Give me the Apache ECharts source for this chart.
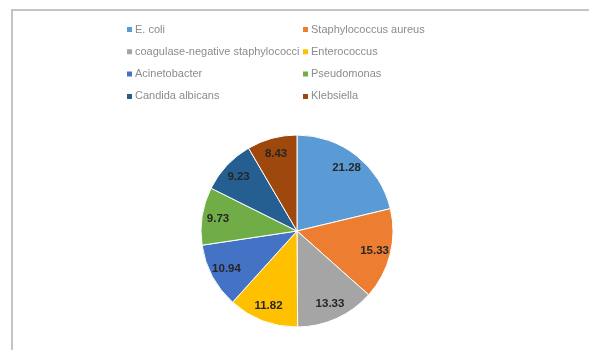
<!DOCTYPE html>
<html>
<head>
<meta charset="utf-8">
<script src="https://cdn.jsdelivr.net/npm/echarts@6/dist/echarts.min.js"></script>
<style>
html,body{margin:0;padding:0;background:#fff;}
#frame{position:absolute;left:11px;top:9px;width:600px;height:360px;border-left:2px solid #c4c4c4;border-top:2px solid #c4c4c4;}
#c{position:absolute;left:0;top:0;width:589px;height:350px;}
</style>
</head>
<body>
<div id="frame"></div>
<div id="c"></div>
<script>
const categories = ["E. coli", "Staphylococcus aureus", "coagulase-negative staphylococci", "Enterococcus", "Acinetobacter", "Pseudomonas", "Candida albicans", "Klebsiella"];
const values = [21.28, 15.33, 13.33, 11.82, 10.94, 9.73, 9.23, 8.43];
const colors = ["#5B9BD5", "#ED7D31", "#A5A5A5", "#FFC000", "#4472C4", "#70AD47", "#255E91", "#9E480E"];
const legendLeft = [categories[0], categories[2], categories[4], categories[6]];
const legendRight = [categories[1], categories[3], categories[5], categories[7]];

const chart = echarts.init(document.getElementById('c'), null, {renderer: 'canvas'});
const mainData = categories.map((n, i) => ({name: n, value: values[i], itemStyle: {color: colors[i]}}));
const overlayData = categories.map((n, i) => ({name: n, value: values[i], itemStyle: {color: 'rgba(0,0,0,0)'}}));
const legendText = {color: '#8c8c8c', fontSize: 11, fontFamily: 'Liberation Sans', padding: [0, 0, 0, -3]};
chart.setOption({
  animation: false,
  color: colors,
  legend: [
    {data: legendLeft, orient: 'vertical', left: 125, top: 24, padding: 0, itemWidth: 7, itemHeight: 7, itemGap: 11.3, icon: 'rect', textStyle: legendText, selectedMode: false},
    {data: legendRight, orient: 'vertical', left: 301, top: 24, padding: 0, itemWidth: 7, itemHeight: 7, itemGap: 11.3, icon: 'rect', textStyle: legendText, selectedMode: false}
  ],
  series: [
    {
      type: 'pie', center: [297, 231], radius: [0, 96], startAngle: 90, clockwise: true,
      data: mainData, label: {show: false}, labelLine: {show: false},
      itemStyle: {borderColor: '#fff', borderWidth: 1}, silent: true
    },
    {
      type: 'pie', center: [297, 231], radius: [58, 96], startAngle: 90, clockwise: true,
      data: overlayData, silent: true, legendHoverLink: false,
      label: {show: true, position: 'inside', formatter: p => p.value.toFixed(2), color: '#262626', fontSize: 11.5, fontWeight: 'bold', fontFamily: 'Liberation Sans'},
      labelLine: {show: false}
    }
  ]
});
</script>
</body>
</html>
